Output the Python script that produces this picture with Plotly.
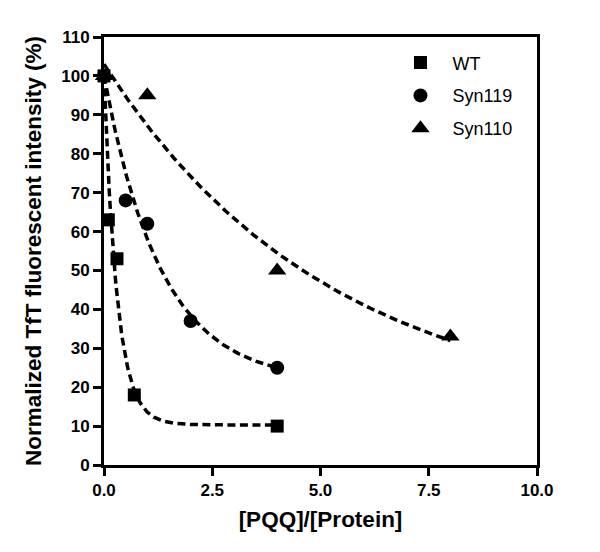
import numpy as np
import plotly.graph_objects as go

# data
wt_x = [0, 0.1, 0.3, 0.7, 4]
wt_y = [100, 63, 53, 18, 10]
s119_x = [0, 0.5, 1, 2, 4]
s119_y = [100, 68, 62, 37, 25]
s110_x = [0, 1, 4, 8]
s110_y = [100, 95, 50, 33]

# one-phase decay fit parameters (Y0, plateau, K)
wt_fit = (100, 10.3, 3.3)
s119_fit = (100, 21.2, 0.76)
s110_fit = (103, 12.5, 0.192)

x_ticks = [0, 2.5, 5, 7.5, 10]
y_ticks = list(range(0, 111, 10))


def decay(params, xmax):
    y0, plateau, k = params
    xs = np.linspace(0, xmax, 200)
    return xs, plateau + (y0 - plateau) * np.exp(-k * xs)


fig = go.Figure()
for name, xs, ys, fit, sym, size, grp in [
    ("WT", wt_x, wt_y, wt_fit, "square", 13, "a"),
    ("Syn119", s119_x, s119_y, s119_fit, "circle", 14, "b"),
    ("Syn110", s110_x, s110_y, s110_fit, "triangle-up", 16, "c"),
]:
    fx, fy = decay(fit, max(xs))
    fig.add_trace(go.Scatter(x=fx, y=fy, mode="lines", showlegend=False,
                             line=dict(color="black", width=3.5, dash="8px,4.5px"),
                             hoverinfo="skip", cliponaxis=False))
    fig.add_trace(go.Scatter(x=xs, y=ys, mode="markers", name=name, legendgroup=grp,
                             marker=dict(symbol=sym, size=size, color="black"),
                             cliponaxis=False))

axis_common = dict(showline=True, linecolor="black", linewidth=3, mirror=True,
                   ticks="outside", ticklen=8, tickwidth=3, tickcolor="black",
                   showgrid=False, zeroline=False, automargin=False,
                   tickfont=dict(family="Liberation Sans", size=17, color="black", weight="bold"))

# page body has an 8px margin; figure sized to fit inside the 600x552 window
fig.update_layout(
    width=584, height=536,
    margin=dict(l=96, r=55, t=29, b=79),
    plot_bgcolor="white", paper_bgcolor="white",
    xaxis=dict(range=[0, 10], tickvals=x_ticks, tickformat=".1f",
               title=dict(text="[PQQ]/[Protein]", standoff=12,
                          font=dict(family="Liberation Sans", size=22.5, color="black", weight="bold")),
               **axis_common),
    yaxis=dict(range=[0, 110], tickvals=y_ticks, ticklabelstandoff=0,
               title=dict(text="Normalized TfT fluorescent intensity (%)", standoff=14,
                          font=dict(family="Liberation Sans", size=22.5, color="black", weight="bold")),
               **axis_common),
    legend=dict(x=0.657, y=0.983, xanchor="left", yanchor="top", tracegroupgap=6.5,
                itemwidth=54,
                font=dict(family="Liberation Sans", size=18, color="black"),
                bgcolor="rgba(0,0,0,0)"),
    showlegend=True,
)

fig.write_html("out.html")
